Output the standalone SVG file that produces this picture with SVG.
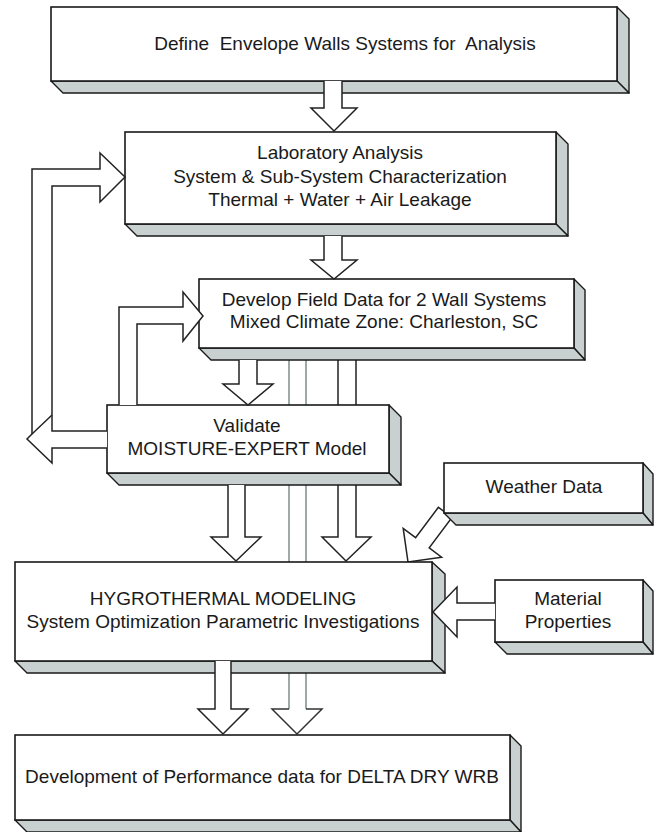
<svg xmlns="http://www.w3.org/2000/svg" width="657" height="832" viewBox="0 0 657 832">
<style>
.face{fill:#fff;stroke:#1a1a1a;stroke-width:1.6}
.side{fill:#c8d1cf;stroke:#1a1a1a;stroke-width:1.4;stroke-linejoin:round}
.arr{fill:#fff;stroke:#222;stroke-width:1.5;stroke-linejoin:miter}
.pipe{fill:none;stroke:#7f8d8d;stroke-width:1.5}
.ln{fill:none;stroke:#222;stroke-width:1.5}
text{font-family:"Liberation Sans",Arial,sans-serif;font-size:19px;fill:#1a1a1a;text-anchor:middle}
</style>
<rect width="657" height="832" fill="#fff"/>

<!-- connectors behind boxes -->
<g id="connectors-back">
  <path class="pipe" d="M289,709 V353 H306 V709"/>
  <path class="arr" d="M289,709 H272 L297,734 L322,709 H306" style="stroke:#333"/>
  <path class="arr" d="M338,353 V537 H322 L346,561 L371,537 H356 V353 Z"/>
  <path class="arr" d="M438.4,507.3 L415.6,537.7 L403.2,528.4 L408,562 L441.6,557.2 L429.2,547.9 L452,517.5 Z"/>
</g>

<g id="define">
  <polygon class="side" points="617,7 629,19 629,93 617,81"/>
  <polygon class="side" points="51,81 617,81 629,93 63,93"/>
  <rect class="face" x="51" y="7" width="566" height="74"/>
  <text x="345" y="50" xml:space="preserve">Define  Envelope Walls Systems for  Analysis</text>
</g>

<g id="lab">
  <polygon class="side" points="556,132 568,144 568,236 556,224"/>
  <polygon class="side" points="125,224 556,224 568,236 137,236"/>
  <rect class="face" x="125" y="132" width="431" height="92"/>
  <text x="340" y="159">Laboratory Analysis</text>
  <text x="340" y="183">System &amp; Sub-System Characterization</text>
  <text x="340" y="206">Thermal + Water + Air Leakage</text>
</g>

<g id="field">
  <polygon class="side" points="574,279 585,290 585,360 574,348"/>
  <polygon class="side" points="199,348 574,348 585,360 211,360"/>
  <rect class="face" x="199" y="279" width="375" height="69"/>
  <text x="384" y="306">Develop Field Data for 2 Wall Systems</text>
  <text x="384" y="328">Mixed Climate Zone: Charleston, SC</text>
</g>

<g id="validate">
  <polygon class="side" points="389,405 401,417 401,485 389,473"/>
  <polygon class="side" points="107,473 389,473 401,485 119,485"/>
  <rect class="face" x="107" y="405" width="282" height="68"/>
  <text x="247" y="432">Validate</text>
  <text x="247" y="455">MOISTURE-EXPERT Model</text>
</g>

<g id="weather">
  <polygon class="side" points="643,463 653,474 653,525 643,513"/>
  <polygon class="side" points="444,513 643,513 653,525 456,525"/>
  <rect class="face" x="444" y="463" width="199" height="50"/>
  <text x="544" y="493">Weather Data</text>
</g>

<g id="hygrothermal">
  <polygon class="side" points="432,562 445,574 445,673 432,661"/>
  <polygon class="side" points="15,661 432,661 445,673 27,673"/>
  <rect class="face" x="15" y="562" width="417" height="99"/>
  <text x="223" y="605">HYGROTHERMAL MODELING</text>
  <text x="223" y="628">System Optimization Parametric Investigations</text>
</g>

<g id="material">
  <polygon class="side" points="643,580 653,591 653,654 643,642"/>
  <polygon class="side" points="495,642 643,642 653,654 507,654"/>
  <rect class="face" x="495" y="580" width="148" height="62"/>
  <text x="568" y="605">Material</text>
  <text x="568" y="628">Properties</text>
</g>

<g id="performance">
  <polygon class="side" points="510,735 521,746 521,832 510,820"/>
  <polygon class="side" points="15,820 510,820 521,832 27,832"/>
  <rect class="face" x="15" y="735" width="495" height="85"/>
  <text x="262" y="783">Development of Performance data for DELTA DRY WRB</text>
</g>

<!-- connectors on top -->
<g id="connectors">
  <path class="arr" d="M324,81 V108 H311 L334,131 L357,108 H342 V81"/>
  <path class="arr" d="M324,236 V260 H311 L334,279 L357,260 H342 V236"/>
  <path class="arr" d="M239,360 V384 H223 L248,405 L273,384 H257 V360"/>
  <path class="arr" d="M228,485 V537 H211 L236,561 L261,537 H245 V485"/>
  <path class="arr" d="M215,661 V709 H198 L223,734 L248,709 H231 V661"/>
  <path class="arr" d="M495,603 H457 V587 L433,612 L457,637 V620 H495"/>
  <path class="arr" d="M137,405 V324 H183 V341 L203,316 L183,292 V307 H119 V405"/>
  <path class="arr" d="M107,431 H52 V186 H100 V202 L125,177 L100,153 V169 H32 V434 L27,439 L52,463 V448 H107"/>
  <path class="ln" d="M52,415 L32,434"/>
</g>
</svg>
